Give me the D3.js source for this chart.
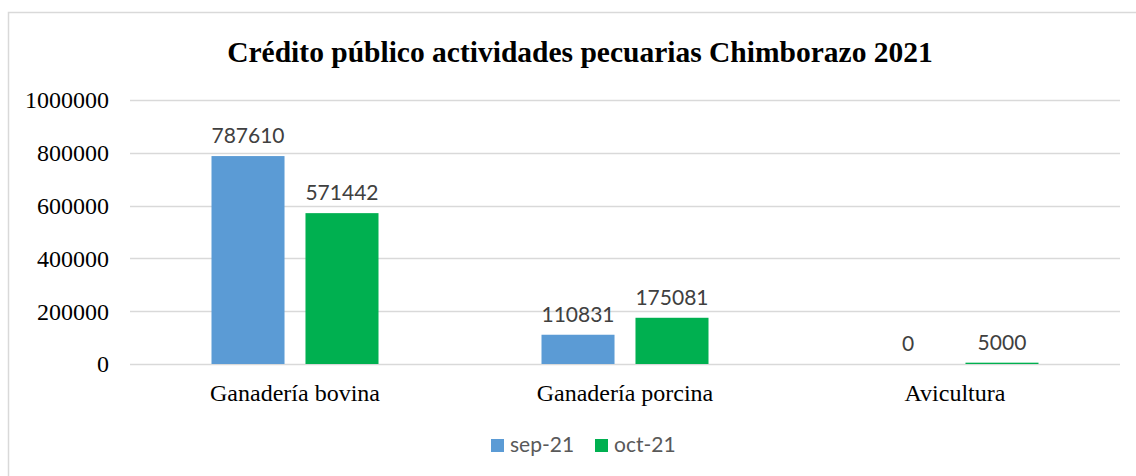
<!DOCTYPE html>
<html>
<head>
<meta charset="utf-8">
<script src="https://cdn.jsdelivr.net/npm/d3@7"></script>
<style>
  html, body { margin: 0; padding: 0; background: #fff; }
</style>
</head>
<body>
<div id="chart"></div>
<script>
const width = 1136;
const height = 476;

// data
const categories = ["Ganadería bovina", "Ganadería porcina", "Avicultura"];
const seriesNames = ["sep-21", "oct-21"];
const sep21 = [787610, 110831, 0];
const oct21 = [571442, 175081, 5000];
const yTicks = [0, 200000, 400000, 600000, 800000, 1000000];
const colors = ["#5B9BD5", "#00B050"];

const margin = {left: 130, right: 16, top: 100, bottom: 112};

const svg = d3.select("#chart")
    .append("svg")
    .attr("width", width)
    .attr("height", height);

// chart border
svg.append("rect")
    .attr("x", 8.5)
    .attr("y", 12.5)
    .attr("width", width + 10)
    .attr("height", height + 10)
    .attr("fill", "#fff")
    .attr("stroke", "#d9d9d9")
    .attr("stroke-width", 1.5);

svg.append("text")
    .attr("x", 580)
    .attr("y", 62)
    .attr("text-anchor", "middle")
    .style("font-family", "'Liberation Serif', 'Times New Roman', serif")
    .style("font-weight", "bold")
    .style("font-size", "29.5px")
    .text("Crédito público actividades pecuarias Chimborazo 2021");

const x = d3.scaleBand()
    .domain(categories)
    .range([margin.left, 1120]);

const xInner = d3.scaleBand()
    .domain(seriesNames)
    .range([81.5, 330 - 81.5])
    .paddingInner(0.223);

const y = d3.scaleLinear()
    .domain([0, 1000000])
    .range([364, 100]);

// gridlines
svg.append("g")
    .selectAll("line")
    .data(yTicks)
    .join("line")
    .attr("x1", margin.left)
    .attr("x2", 1120)
    .attr("y1", d => Math.round(y(d)) + 0.5)
    .attr("y2", d => Math.round(y(d)) + 0.5)
    .attr("stroke", "#d9d9d9")
    .attr("stroke-width", 1.5);

// y tick labels
svg.append("g")
    .selectAll("text")
    .data(yTicks)
    .join("text")
    .attr("x", 109)
    .attr("y", d => y(d))
    .attr("dy", "0.35em")
    .attr("text-anchor", "end")
    .style("font-family", "'Liberation Serif', 'Times New Roman', serif")
    .style("font-size", "24px")
    .attr("fill", "#000")
    .text(d => d);

const series = [sep21, oct21];
const bars = [];
series.forEach((vals, si) => {
    vals.forEach((v, ci) => {
        bars.push({cat: categories[ci], name: seriesNames[si], value: v, color: colors[si]});
    });
});

svg.append("g")
    .selectAll("rect")
    .data(bars)
    .join("rect")
    .attr("x", d => x(d.cat) + xInner(d.name))
    .attr("y", d => y(d.value))
    .attr("width", xInner.bandwidth())
    .attr("height", d => y(0) - y(d.value))
    .attr("fill", d => d.color);

// data labels
svg.append("g")
    .selectAll("text")
    .data(bars)
    .join("text")
    .attr("x", d => x(d.cat) + xInner(d.name) + xInner.bandwidth() / 2)
    .attr("y", d => y(d.value) - 13)
    .attr("text-anchor", "middle")
    .style("font-family", "Lato, 'Open Sans', sans-serif")
    .style("font-size", "21px")
    .attr("fill", "#404040")
    .text(d => d.value);

// category labels
svg.append("g")
    .selectAll("text")
    .data(categories)
    .join("text")
    .attr("x", d => x(d) + x.bandwidth() / 2)
    .attr("y", 401)
    .attr("text-anchor", "middle")
    .style("font-family", "'Liberation Serif', 'Times New Roman', serif")
    .style("font-size", "24px")
    .attr("fill", "#000")
    .text(d => d);

// legend
const legend = svg.append("g");
const legendX = [491, 595];
seriesNames.forEach((name, i) => {
    legend.append("rect")
        .attr("x", legendX[i])
        .attr("y", 439)
        .attr("width", 13)
        .attr("height", 13)
        .attr("fill", colors[i]);
    legend.append("text")
        .attr("x", legendX[i] + 19)
        .attr("y", 452)
        .style("font-family", "Lato, 'Open Sans', sans-serif")
        .style("font-size", "21px")
        .attr("fill", "#595959")
        .text(name);
});
</script>
</body>
</html>
